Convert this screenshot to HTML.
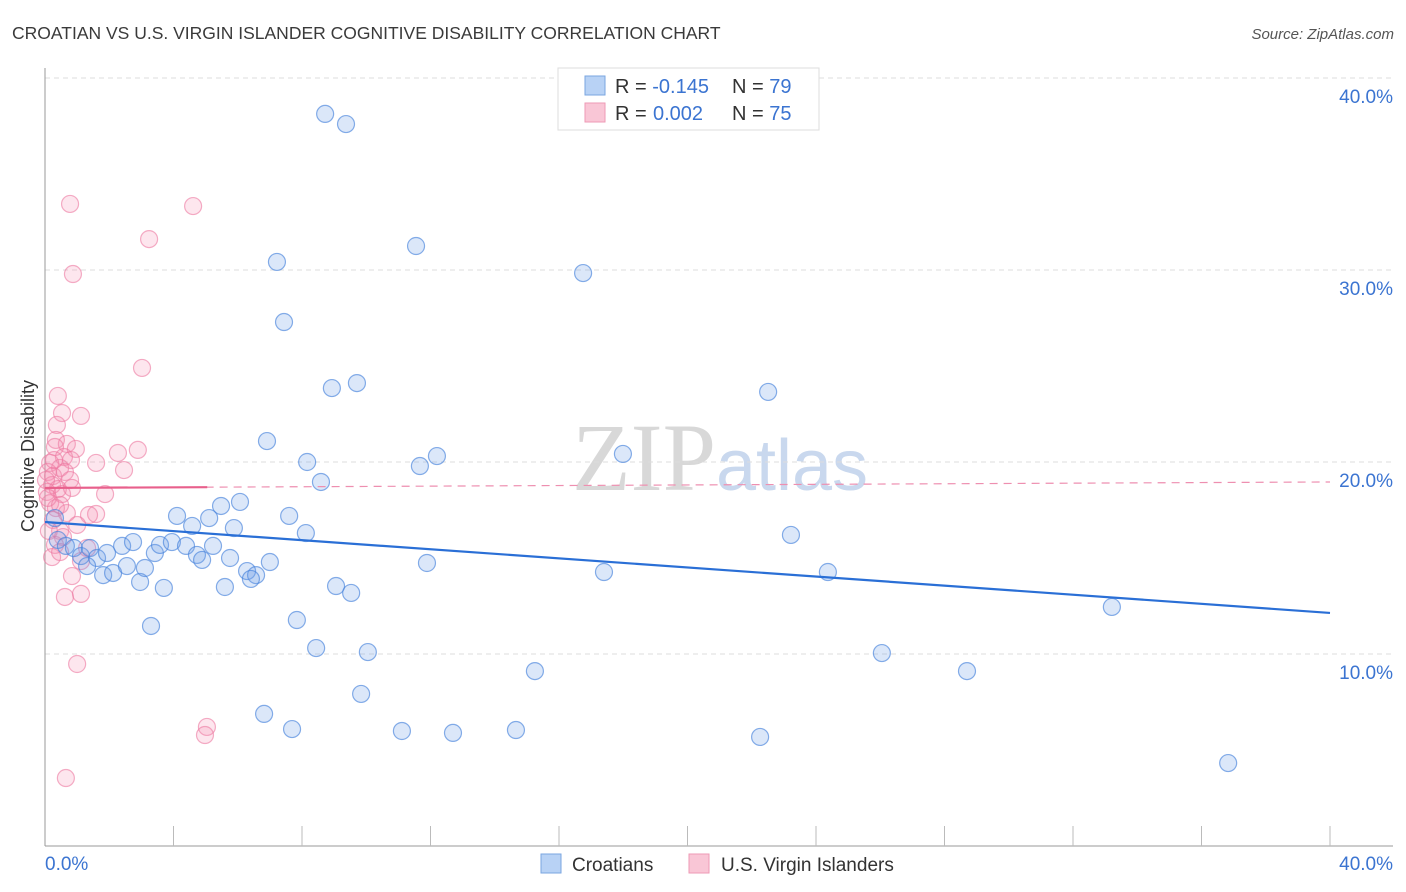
<!DOCTYPE html>
<html><head><meta charset="utf-8"><style>
body{margin:0;background:#fff;font-family:"Liberation Sans",sans-serif;}
svg{display:block}
</style></head><body>
<svg id="chart" width="1406" height="892">
<text x="12" y="39" font-size="17.5" fill="#3a3a3a">CROATIAN VS U.S. VIRGIN ISLANDER COGNITIVE DISABILITY CORRELATION CHART</text>
<text x="1394" y="39" font-size="15" fill="#555" text-anchor="end" font-style="italic">Source: ZipAtlas.com</text>
<text x="34" y="456" font-size="18" fill="#333" text-anchor="middle" transform="rotate(-90 34 456)">Cognitive Disability</text>
<text x="720" y="490" font-size="96" fill="#d8d8d8" text-anchor="middle" font-family="Liberation Serif,serif">ZIP<tspan fill="#c9d8ee" font-family="Liberation Sans,sans-serif" font-size="72">atlas</tspan></text>
<g id="grid"></g><g id="pts"></g><g id="lines"></g>
<g>
<rect x="558" y="68" width="261" height="62" fill="#fff" stroke="#ddd"/>
<rect x="585" y="76" width="20" height="19" fill="#b8d2f5" stroke="#7aa6e0"/>
<rect x="585" y="103" width="20" height="19" fill="#f9c6d6" stroke="#ee9ab5"/>
<text x="615" y="93" font-size="20" fill="#333">R = <tspan fill="#3b74d1">-0.145</tspan><tspan x="732">N = </tspan><tspan fill="#3b74d1">79</tspan></text>
<text x="615" y="120" font-size="20" fill="#333">R = <tspan x="653" fill="#3b74d1">0.002</tspan><tspan x="732">N = </tspan><tspan fill="#3b74d1">75</tspan></text>
</g>
<g>
<rect x="541" y="854" width="20" height="19" fill="#b8d2f5" stroke="#7aa6e0"/>
<text x="572" y="871" font-size="19" fill="#333">Croatians</text>
<rect x="689" y="854" width="20" height="19" fill="#f9c6d6" stroke="#ee9ab5"/>
<text x="721" y="871" font-size="19" fill="#333">U.S. Virgin Islanders</text>
</g>
</svg>
<script>
const yTicks=[10,20,30,40];
const yTickLabels=["10.0%","20.0%","30.0%","40.0%"];
const xTickLabels=["0.0%","40.0%"];
const blueX=[8.72,9.37,11.55,7.22,16.75,7.44,8.93,9.71,22.51,6.91,12.20,11.67,8.16,17.99,8.59,6.07,5.48,5.11,4.11,4.58,5.88,7.60,8.12,23.22,0.31,0.40,0.65,0.90,1.12,1.40,1.62,1.93,2.40,2.74,3.42,3.58,3.95,4.39,4.73,4.89,5.23,5.76,7.00,6.29,6.57,6.41,1.31,1.81,2.12,2.55,2.96,3.11,3.70,5.60,9.06,9.53,11.89,17.40,24.37,33.21,3.30,7.84,8.44,10.05,15.25,26.05,28.70,9.84,6.82,7.69,11.11,12.70,14.66,22.26,36.83];
const blueY=[38.13,37.60,31.25,30.42,29.84,27.29,23.85,24.11,23.65,21.09,20.31,19.79,20.00,20.42,18.96,17.92,17.71,17.08,17.19,16.67,16.56,17.19,16.30,16.20,17.08,15.94,15.63,15.52,15.10,15.52,15.00,15.26,15.63,15.83,15.26,15.68,15.83,15.63,15.16,14.90,15.63,15.00,14.79,14.32,14.11,13.91,14.58,14.11,14.22,14.58,13.75,14.48,13.44,13.49,13.54,13.18,14.74,14.27,14.27,12.45,11.46,11.77,10.31,10.10,9.11,10.05,9.11,7.92,6.88,6.09,5.99,5.89,6.04,5.68,4.32];
const pinkX=[0.78,4.61,3.24,0.87,3.02,0.40,0.53,1.12,0.37,0.34,0.68,0.31,0.96,2.27,2.89,0.59,0.81,0.16,0.47,1.59,2.46,0.09,0.25,0.62,0.78,0.22,0.40,0.06,0.53,1.87,0.16,0.34,0.68,1.59,1.37,0.25,1.00,0.47,0.12,0.56,0.31,1.31,0.22,0.47,1.12,0.84,0.62,1.12,1.00,5.04,4.98,0.65,0.28,0.09,0.84,0.47,0.03];
const pinkY=[33.44,33.33,31.61,29.79,24.90,23.44,22.55,22.40,21.93,21.15,20.94,20.78,20.68,20.47,20.63,20.26,20.10,19.95,19.69,19.95,19.58,19.48,19.27,19.48,19.06,18.80,18.59,18.44,18.33,18.33,17.86,17.60,17.34,17.29,17.24,16.98,16.72,16.41,16.41,16.09,15.68,15.52,15.05,15.31,14.84,14.06,12.97,13.13,9.48,6.20,5.78,3.54,20.10,18.13,18.65,17.76,19.06];
const blueLine=[16.875,12.14]; // y at x=0 and x=40
const pinkLine=[18.65,18.96];
const NS="http://www.w3.org/2000/svg";
const X0=45,X1=1330,Y0=846,PPY=19.2;
const sx=v=>X0+v/40*(X1-X0);
const sy=v=>Y0-v*PPY;
function mk(tag,attrs,parent){const e=document.createElementNS(NS,tag);for(const k in attrs)e.setAttribute(k,attrs[k]);parent.appendChild(e);return e;}
const grid=document.getElementById('grid');
yTicks.forEach((t,i)=>{
 const l=mk('line',{x1:45,x2:1393,y1:sy(t),y2:sy(t),stroke:'#ddd','stroke-dasharray':'5,4'},grid);
 
 
 const tx=mk('text',{x:1393,y:sy(t)+25,'font-size':19,fill:'#3b74d1','text-anchor':'end'},grid);
 tx.textContent=yTickLabels[i];
 
 
});
const ax=mk('line',{x1:45,x2:45,y1:68,y2:846,stroke:'#999'},grid);


const bx=mk('line',{x1:45,x2:1393,y1:846,y2:846,stroke:'#999'},grid);


for(let i=1;i<=10;i++){const t=mk('line',{x1:sx(i*4),x2:sx(i*4),y1:826,y2:846,stroke:'#bbb'},grid);
 
 }
const xl0=mk('text',{x:45,y:870,'font-size':19,fill:'#3b74d1'},grid);xl0.textContent=xTickLabels[0];


const xl1=mk('text',{x:1393,y:870,'font-size':19,fill:'#3b74d1','text-anchor':'end'},grid);xl1.textContent=xTickLabels[1];


const pts=document.getElementById('pts');
pinkX.forEach((v,i)=>{const c=mk('circle',{cx:sx(v),cy:sy(pinkY[i]),r:8.5,fill:'rgba(244,143,177,0.22)',stroke:'rgba(236,120,160,0.6)','stroke-width':1.2},pts);
 
 });
blueX.forEach((v,i)=>{const c=mk('circle',{cx:sx(v),cy:sy(blueY[i]),r:8.5,fill:'rgba(110,160,230,0.25)',stroke:'rgba(70,130,220,0.65)','stroke-width':1.2},pts);
 
 });
const lines=document.getElementById('lines');
const bl=mk('line',{x1:sx(0),y1:sy(blueLine[0]),x2:sx(40),y2:sy(blueLine[1]),stroke:'#2a6fd6','stroke-width':2.2},lines);


const pk=v=>pinkLine[0]+(pinkLine[1]-pinkLine[0])*v/40;
const pd=mk('line',{x1:sx(5),y1:sy(pk(5)),x2:sx(40),y2:sy(pk(40)),stroke:'#ee8fb0','stroke-width':1.2,'stroke-dasharray':'8,6'},lines);


const ps=mk('line',{x1:sx(0),y1:sy(pk(0)),x2:sx(5.05),y2:sy(pk(5.05)),stroke:'#e8608c','stroke-width':2.2},lines);


</script>
</body></html>
